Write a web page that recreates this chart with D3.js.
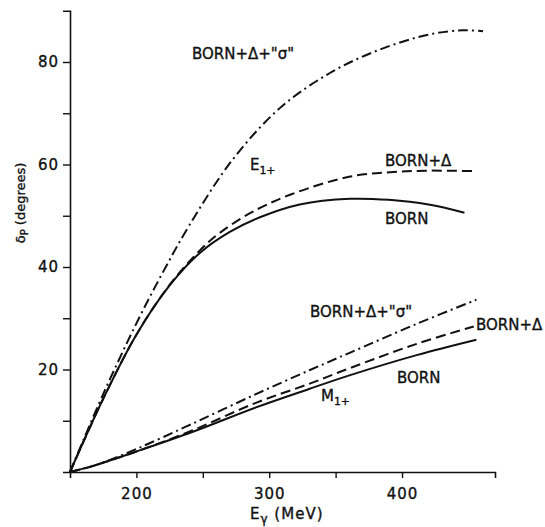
<!DOCTYPE html>
<html>
<head>
<meta charset="utf-8">
<script src="https://cdn.jsdelivr.net/npm/d3@7"></script>
<style>
  body { margin: 0; background: #fff; }
  svg text { font-family: "DejaVu Sans", sans-serif; fill: #111; stroke: #111; stroke-width: 0.35px; }
</style>
</head>
<body>
<div id="chart"></div>
<script>
// E1+ group (upper curves)
const e1Energy = [150, 175, 200, 225, 248, 270, 293, 323, 361, 390, 420, 447];
const e1Born = [0, 14.3, 26.8, 36.4, 42.8, 46.8, 49.7, 52.2, 53.3, 53.1, 52.2, 50.6];

const e1DeltaEnergy = [150, 175, 200, 225, 248, 262, 285.5, 315.7, 360, 391, 420, 454];
const e1Delta = [0, 14.3, 26.8, 36.5, 43.3, 46.5, 50.5, 54.1, 57.6, 58.5, 58.8, 58.7];

const e1SigmaEnergy = [150, 175, 200, 220, 240, 272, 308, 346, 383, 421, 446, 461];
const e1Sigma = [0, 15.2, 29.0, 39.0, 48.2, 60.8, 71.0, 77.9, 82.4, 85.4, 86.2, 86.0];

// M1+ group (lower curves)
const m1Energy = [150, 167.5, 200, 242, 290, 330, 361, 411, 456];
const m1Born = [0, 1.2, 4.0, 7.8, 12.6, 16.2, 18.9, 22.8, 25.8];

const m1DeltaEnergy = [150, 167.5, 200, 242, 290, 330, 361, 411, 454];
const m1Delta = [0, 1.2, 4.0, 8.1, 13.5, 17.2, 20.3, 25.0, 28.4];

const m1SigmaEnergy = [150, 170, 200, 242, 290, 330.7, 361, 411, 456];
const m1Sigma = [0, 1.4, 4.5, 9.4, 15.2, 19.9, 23.3, 28.9, 33.6];

const xMajor = [200, 300, 400];
const xMinor = [250, 350];
const yMajor = [20, 40, 60, 80];
const yMinor = [10, 30, 50, 70];

const w = 545, h = 527;
const svg = d3.select('#chart').append('svg').attr('width', w).attr('height', h);

const x = d3.scaleLinear().domain([150, 470]).range([70, 495]);
const y = d3.scaleLinear().domain([0, 90]).range([472, 10.75]);

// axes
const xAxis = svg.append('g').attr('transform', `translate(0, ${y(0)})`)
  .call(d3.axisBottom(x).tickValues(xMajor.concat(xMinor)).tickSize(6)
    .tickFormat(d => xMajor.includes(d) ? d : ''));
const yAxis = svg.append('g').attr('transform', `translate(${x(150)}, 0)`)
  .call(d3.axisLeft(y).tickValues(yMajor.concat(yMinor)).tickSize(7)
    .tickFormat(d => yMajor.includes(d) ? d : ''));

[xAxis, yAxis].forEach(a => {
  a.select('.domain').attr('stroke', '#111').attr('stroke-width', 1.6);
  a.selectAll('.tick line').attr('stroke', '#111').attr('stroke-width', 1.4);
  a.selectAll('.tick text').attr('font-size', 15).attr('letter-spacing', 1)
    .attr('font-family', '"DejaVu Sans", sans-serif').attr('fill', '#111');
});
xAxis.selectAll('.tick text').attr('dy', '1.2em');
yAxis.selectAll('.tick text').attr('x', -11);

// curves
const line = d3.line().x(d => x(d[0])).y(d => y(d[1])).curve(d3.curveCatmullRom.alpha(0.5));
const series = [
  { e: e1Energy, v: e1Born, dash: null },
  { e: e1DeltaEnergy, v: e1Delta, dash: '10,5' },
  { e: e1SigmaEnergy, v: e1Sigma, dash: '10,4,2,4' },
  { e: m1Energy, v: m1Born, dash: null },
  { e: m1DeltaEnergy, v: m1Delta, dash: '10,5' },
  { e: m1SigmaEnergy, v: m1Sigma, dash: '10,4,2,4' }
];
svg.selectAll('path.curve').data(series).enter().append('path')
  .attr('class', 'curve')
  .attr('d', s => line(s.e.map((e, i) => [e, s.v[i]])))
  .attr('fill', 'none').attr('stroke', '#111').attr('stroke-width', 2)
  .attr('stroke-dasharray', s => s.dash);

// curve labels
const labels = [
  { t: 'BORN+Δ+"σ"', x: 192, y: 59 },
  { t: 'BORN+Δ', x: 385, y: 166 },
  { t: 'BORN', x: 385, y: 224 },
  { t: 'BORN+Δ+"σ"', x: 310, y: 317 },
  { t: 'BORN+Δ', x: 476, y: 330 },
  { t: 'BORN', x: 397, y: 383 }
];
svg.selectAll('text.lab').data(labels).enter().append('text')
  .attr('class', 'lab').attr('x', d => d.x).attr('y', d => d.y)
  .attr('font-size', 15).text(d => d.t);

function subLabel(px, py, main, sub, size) {
  const t = svg.append('text').attr('x', px).attr('y', py).attr('font-size', size);
  t.append('tspan').text(main);
  t.append('tspan').attr('font-size', size * 0.72).attr('dy', 4).text(sub);
  return t;
}
subLabel(250, 170, 'E', '1+', 15);
subLabel(321, 401, 'M', '1+', 15);

// axis titles
const xt = svg.append('text').attr('x', 250).attr('y', 519).attr('font-size', 15)
  .attr('letter-spacing', 1);
xt.append('tspan').text('E');
xt.append('tspan').attr('font-size', 12).attr('dy', 4).text('γ');
xt.append('tspan').attr('dy', -4).text(' (MeV)');

const yt = svg.append('text').attr('transform', 'translate(25, 203) rotate(-90)')
  .attr('text-anchor', 'middle').attr('font-size', 13);
yt.append('tspan').text('δ');
yt.append('tspan').attr('font-size', 10).attr('dy', 3).text('P');
yt.append('tspan').attr('dy', -3).text(' (degrees)');
</script>
</body>
</html>
